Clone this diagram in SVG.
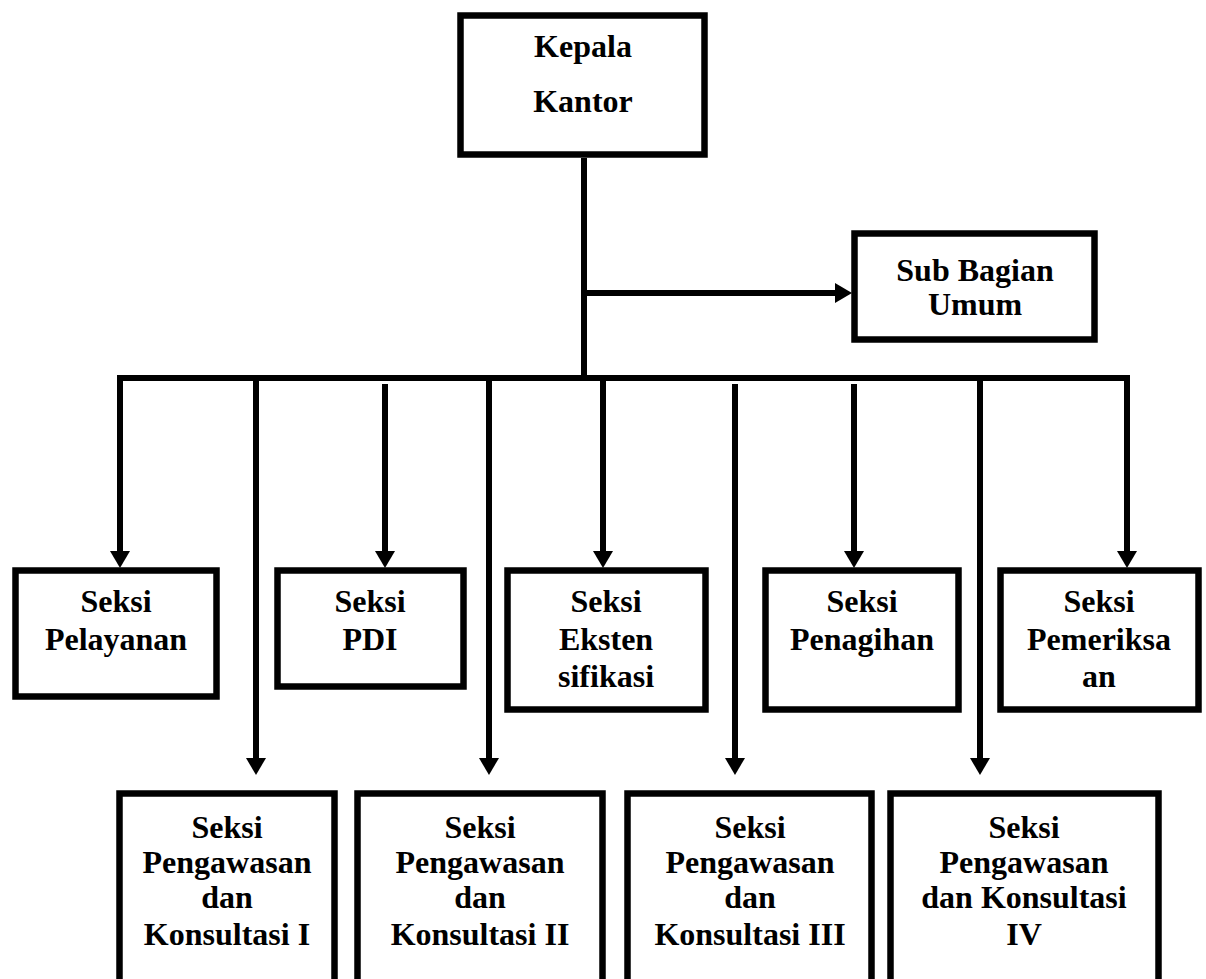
<svg xmlns="http://www.w3.org/2000/svg" width="1206" height="979" viewBox="0 0 1206 979">
<style>
.box{fill:#fff;stroke:#000;stroke-width:6.5}
.ln{fill:none;stroke:#000;stroke-width:6;stroke-linejoin:miter}
.t{font-family:"Liberation Serif","Times New Roman",serif;font-weight:bold;font-size:32px;fill:#000;text-anchor:middle}
</style>
<defs>
<marker id="ah" markerUnits="userSpaceOnUse" markerWidth="18" markerHeight="20" refX="0" refY="10" orient="auto" viewBox="0 0 18 20">
<path d="M0,0 L17,10 L0,20 z" fill="#000"/>
</marker>
</defs>
<rect width="1206" height="979" fill="#fff"/>
<g id="connectors">
<path class="ln" d="M584,158 L584,378"/>
<path class="ln" d="M584,293 L835,293" marker-end="url(#ah)"/>
<path class="ln" d="M120,551 L120,378 L1127,378 L1127,551" marker-end="url(#ah)"/>
<path class="ln" d="M120,378 L120,551" marker-end="url(#ah)"/>
<path class="ln" d="M385,384 L385,551" marker-end="url(#ah)"/>
<path class="ln" d="M603,378 L603,551" marker-end="url(#ah)"/>
<path class="ln" d="M854,384 L854,551" marker-end="url(#ah)"/>
<path class="ln" d="M256,378 L256,758" marker-end="url(#ah)"/>
<path class="ln" d="M489,378 L489,758" marker-end="url(#ah)"/>
<path class="ln" d="M735,384 L735,758" marker-end="url(#ah)"/>
<path class="ln" d="M980,378 L980,758" marker-end="url(#ah)"/>
</g>
<g id="kepala">
<rect class="box" x="460.5" y="15.5" width="244" height="139"/>
<text class="t" x="583" y="57">Kepala</text>
<text class="t" x="583" y="112">Kantor</text>
</g>
<g id="subbagian">
<rect class="box" x="854.5" y="233.5" width="240" height="106"/>
<text class="t" x="975" y="281">Sub Bagian</text>
<text class="t" x="975" y="315">Umum</text>
</g>
<g id="pelayanan">
<rect class="box" x="15.5" y="570.5" width="201" height="126"/>
<text class="t" x="116" y="612">Seksi</text>
<text class="t" x="116" y="650">Pelayanan</text>
</g>
<g id="pdi">
<rect class="box" x="277.5" y="570.5" width="186" height="116"/>
<text class="t" x="370" y="612">Seksi</text>
<text class="t" x="370" y="650">PDI</text>
</g>
<g id="ekstensifikasi">
<rect class="box" x="507.5" y="570.5" width="198" height="139"/>
<text class="t" x="606" y="612">Seksi</text>
<text class="t" x="606" y="650">Eksten</text>
<text class="t" x="606" y="687">sifikasi</text>
</g>
<g id="penagihan">
<rect class="box" x="765.5" y="570.5" width="193" height="139"/>
<text class="t" x="862" y="612">Seksi</text>
<text class="t" x="862" y="650">Penagihan</text>
</g>
<g id="pemeriksaan">
<rect class="box" x="1000.5" y="570.5" width="198" height="139"/>
<text class="t" x="1099" y="612">Seksi</text>
<text class="t" x="1099" y="650">Pemeriksa</text>
<text class="t" x="1099" y="687">an</text>
</g>
<g id="pk1">
<rect class="box" x="119.5" y="793.5" width="215" height="200"/>
<text class="t" x="227" y="838">Seksi</text>
<text class="t" x="227" y="873">Pengawasan</text>
<text class="t" x="227" y="908">dan</text>
<text class="t" x="227" y="945">Konsultasi I</text>
</g>
<g id="pk2">
<rect class="box" x="357.5" y="793.5" width="245" height="200"/>
<text class="t" x="480" y="838">Seksi</text>
<text class="t" x="480" y="873">Pengawasan</text>
<text class="t" x="480" y="908">dan</text>
<text class="t" x="480" y="945">Konsultasi II</text>
</g>
<g id="pk3">
<rect class="box" x="627.5" y="793.5" width="244" height="200"/>
<text class="t" x="750" y="838">Seksi</text>
<text class="t" x="750" y="873">Pengawasan</text>
<text class="t" x="750" y="908">dan</text>
<text class="t" x="750" y="945">Konsultasi III</text>
</g>
<g id="pk4">
<rect class="box" x="890.5" y="793.5" width="268" height="200"/>
<text class="t" x="1024" y="838">Seksi</text>
<text class="t" x="1024" y="873">Pengawasan</text>
<text class="t" x="1024" y="908">dan Konsultasi</text>
<text class="t" x="1024" y="945">IV</text>
</g>
</svg>
